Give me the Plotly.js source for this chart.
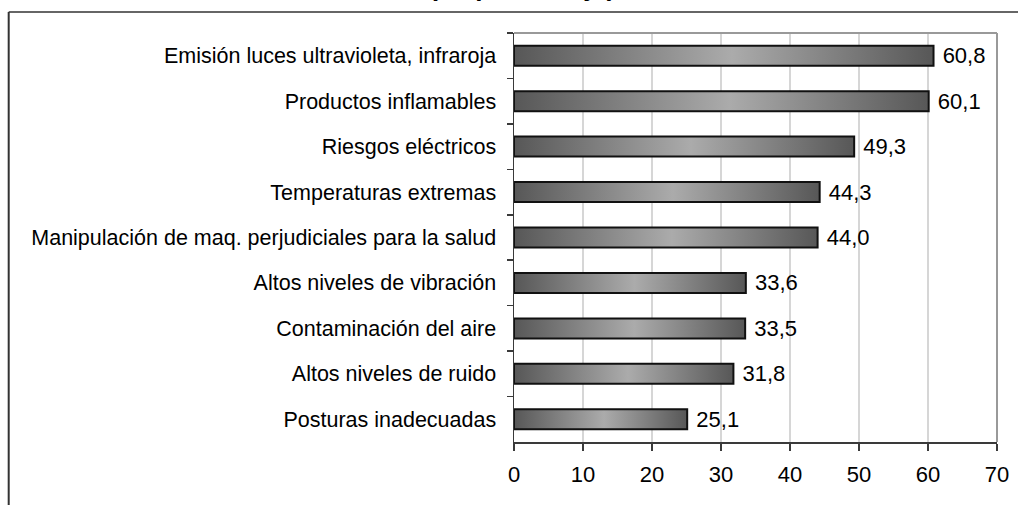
<!DOCTYPE html>
<html>
<head>
<meta charset="utf-8">
<script src="https://cdn.plot.ly/plotly-3.0.1.min.js"></script>
<style>
  html, body { margin: 0; padding: 0; background: #fff; }
  #chart { width: 1018px; height: 505px; }
</style>
</head>
<body>
<div id="chart"></div>
<script>
// Data (top to bottom as shown)
const categories = [
  "Emisión luces ultravioleta, infraroja",
  "Productos inflamables",
  "Riesgos eléctricos",
  "Temperaturas extremas",
  "Manipulación de maq. perjudiciales para la salud",
  "Altos niveles de vibración",
  "Contaminación del aire",
  "Altos niveles de ruido",
  "Posturas inadecuadas"
];
const values = [60.8, 60.1, 49.3, 44.3, 44.0, 33.6, 33.5, 31.8, 25.1];
const xTicks = [0, 10, 20, 30, 40, 50, 60, 70];
const titleText = "(en porcentaje)";

const FONT = "Liberation Sans, Arial, Helvetica, sans-serif";

// plot area geometry in pixels
const W = 1018, H = 505;
const L = 514, R = 997, T = 33, B = 442;
const pw = R - L, ph = B - T;
const px = x => (x - L) / pw;
const py = y => (B - y) / ph;

const trace = {
  type: "bar",
  orientation: "h",
  y: categories,
  x: values,
  marker: { color: "#8a8a8a", line: { color: "#111", width: 2 } },
  texttemplate: "\u00a0%{x:.1f}",
  textposition: "outside",
  constraintext: "none",
  cliponaxis: false,
  textfont: { family: FONT, size: 22, color: "#000" },
  outsidetextfont: { family: FONT, size: 22, color: "#000" },
  hoverinfo: "none"
};

const layout = {
  width: W, height: H,
  margin: { l: L, r: W - R, t: T, b: H - B, pad: 0 },
  paper_bgcolor: "#fff",
  plot_bgcolor: "#fff",
  separators: ",.",
  showlegend: false,
  bargap: 0.56,
  font: { family: FONT, color: "#000" },
  xaxis: {
    range: [0, 70],
    tickvals: xTicks,
    ticktext: xTicks.map(String),
    showgrid: true, gridcolor: "#d6d6d6", gridwidth: 1.5,
    zeroline: false,
    showline: true, linecolor: "#3a3a3a", linewidth: 1.5,
    ticks: "outside", ticklen: 7, tickwidth: 1.5, tickcolor: "#3a3a3a",
    tickfont: { family: FONT, size: 22, color: "#000" },
    ticklabelstandoff: 5,
    fixedrange: true
  },
  yaxis: {
    type: "category",
    autorange: "reversed",
    showgrid: false, zeroline: false,
    showline: true, linecolor: "#3a3a3a", linewidth: 1.5,
    ticks: "outside", tickson: "boundaries", ticklen: 6, tickwidth: 1.5, tickcolor: "#3a3a3a",
    tickfont: { family: FONT, size: 21.5, color: "#000" },
    ticklabelstandoff: 12,
    fixedrange: true
  },
  shapes: [
    // gray plot-area border top and right
    { type: "line", xref: "paper", yref: "paper", x0: 0, x1: 1, y0: 1, y1: 1,
      line: { color: "#999", width: 2 } },
    { type: "line", xref: "paper", yref: "paper", x0: 1, x1: 1, y0: 0, y1: 1,
      line: { color: "#999", width: 2 } },
    // outer chart frame (top and left)
    { type: "line", xref: "paper", yref: "paper", x0: px(8.7), x1: px(1030), y0: py(12), y1: py(12),
      line: { color: "#333", width: 1.5 } },
    { type: "line", xref: "paper", yref: "paper", x0: px(8.7), x1: px(8.7), y0: py(12), y1: py(520),
      line: { color: "#333", width: 2 } }
  ],
  annotations: [
    { text: "<b>" + titleText + "</b>", xref: "paper", yref: "paper",
      x: px(522), y: py(-12.8), xanchor: "center", yanchor: "middle",
      showarrow: false, font: { family: FONT, size: 26, color: "#000" } }
  ]
};

Plotly.newPlot("chart", [trace], layout, { staticPlot: true, displayModeBar: false }).then(() => {
  const svg = document.querySelector("#chart .main-svg");
  const NS = "http://www.w3.org/2000/svg";
  let defs = svg.querySelector("defs");
  if (!defs) { defs = document.createElementNS(NS, "defs"); svg.insertBefore(defs, svg.firstChild); }
  const grad = document.createElementNS(NS, "linearGradient");
  grad.setAttribute("id", "barGrad");
  grad.setAttribute("x1", "0"); grad.setAttribute("y1", "0");
  grad.setAttribute("x2", "1"); grad.setAttribute("y2", "0");
  [["0", "#575757"], ["0.52", "#ababab"], ["1", "#575757"]].forEach(([o, c]) => {
    const s = document.createElementNS(NS, "stop");
    s.setAttribute("offset", o); s.setAttribute("stop-color", c);
    grad.appendChild(s);
  });
  defs.appendChild(grad);
  document.querySelectorAll("#chart .barlayer .point path").forEach(p => {
    p.style.fill = "url(#barGrad)";
  });
});
</script>
</body>
</html>
